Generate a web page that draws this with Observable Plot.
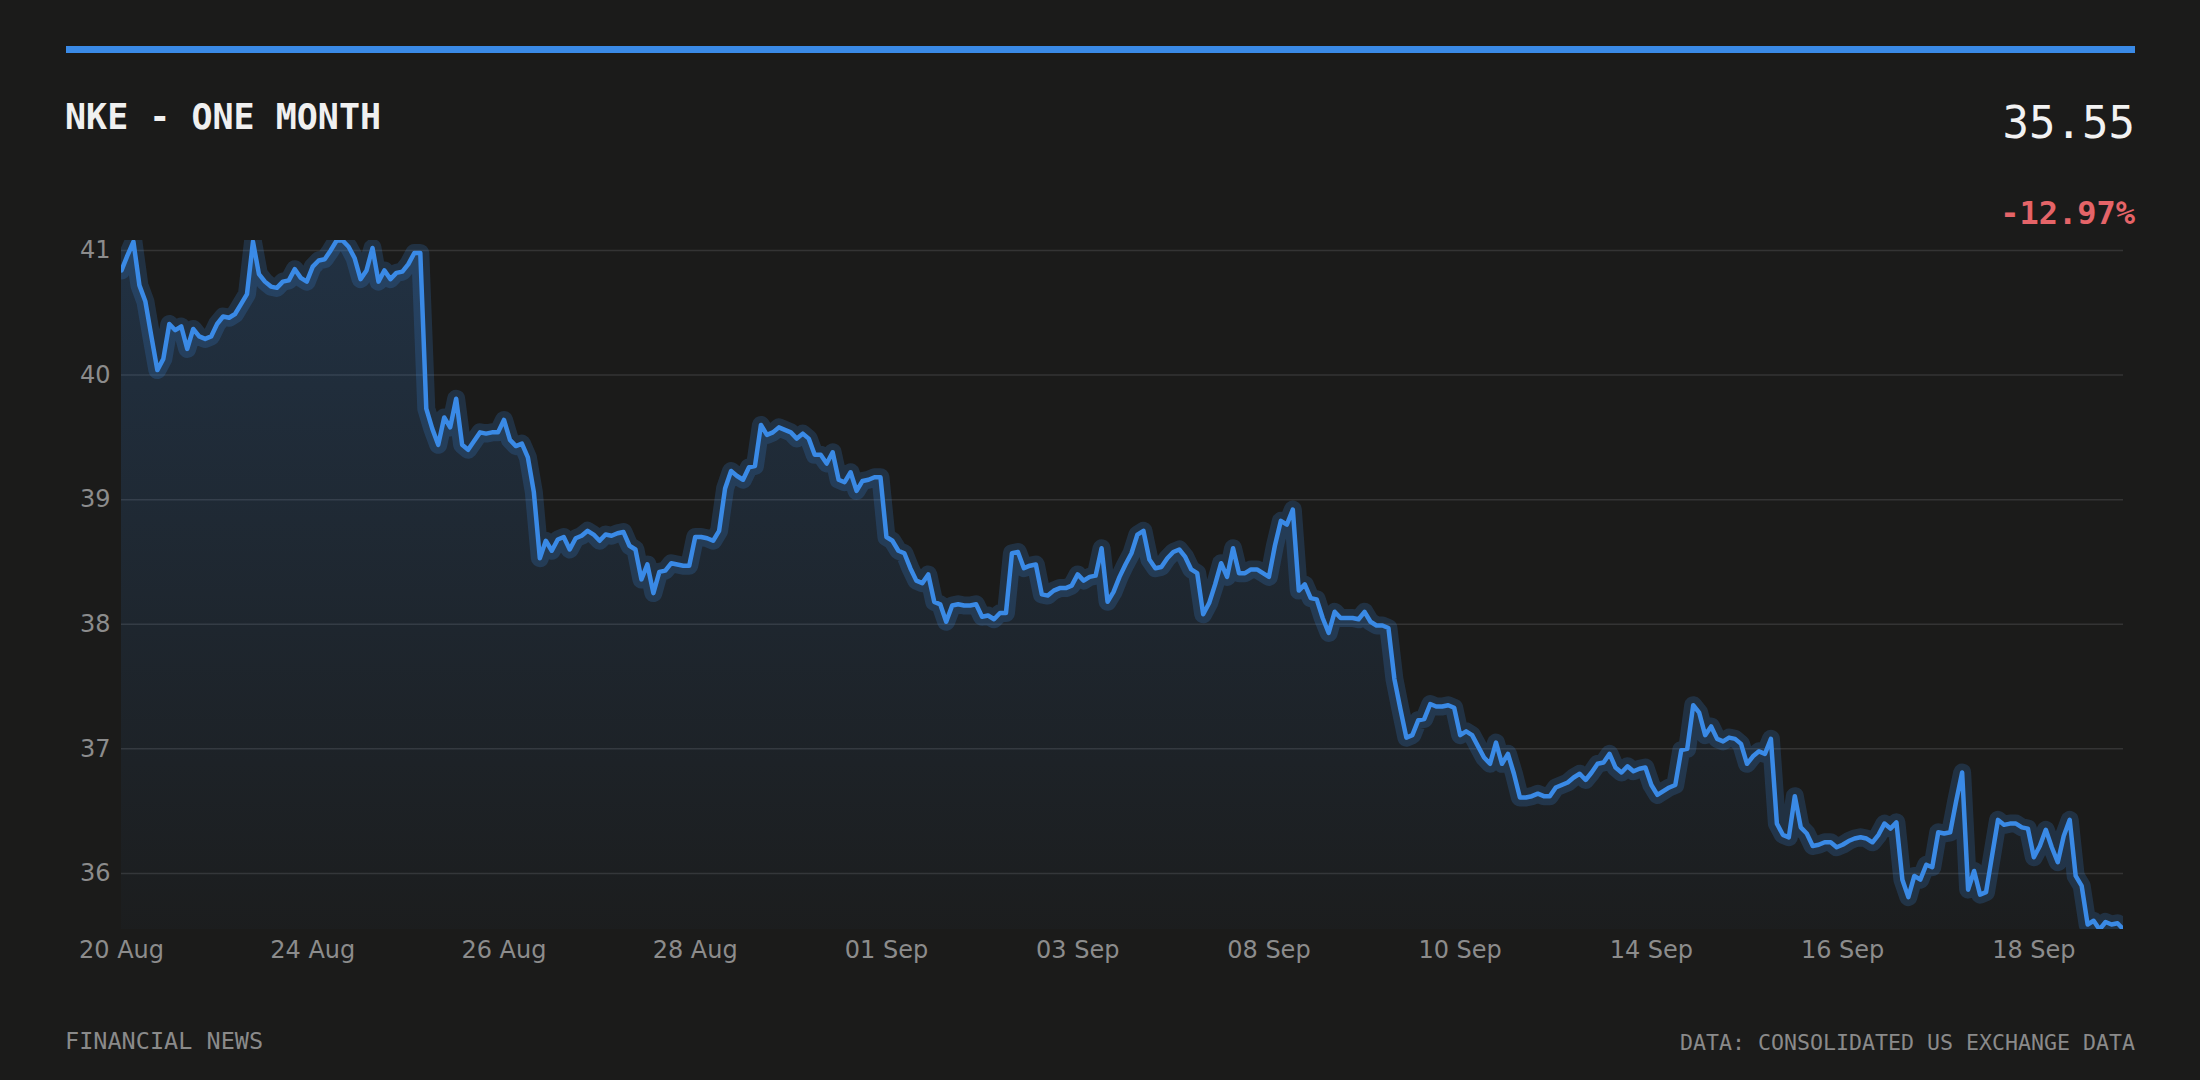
<!DOCTYPE html>
<html>
<head>
<meta charset="utf-8">
<script src="https://cdn.jsdelivr.net/npm/d3@7"></script>
<script src="https://cdn.jsdelivr.net/npm/@observablehq/plot@0.6"></script>
<style>
  html, body { margin: 0; padding: 0; background: #1b1b1a; width: 2200px; height: 1080px; overflow: hidden; }
  .abs { position: absolute; white-space: nowrap; line-height: 1; }
  .mono { font-family: "DejaVu Sans Mono", "Liberation Mono", monospace; }
</style>
</head>
<body>
<div class="abs" style="left:66px;top:46px;width:2069px;height:7px;background:#3a8ae6"></div>
<div class="abs mono" id="title" style="left:65px;top:100px;font-size:35px;font-weight:bold;color:#f0f0f0"></div>
<div class="abs mono" id="price" style="right:65px;top:101px;font-size:44px;color:#f2f2f2"></div>
<div class="abs mono" id="change" style="right:65px;top:197px;font-size:32px;font-weight:bold;color:#e56468"></div>
<div class="abs" id="chart" style="left:66px;top:200px"></div>
<div class="abs mono" id="source" style="left:65px;top:1030px;font-size:23.5px;color:#8a8a8a"></div>
<div class="abs mono" id="credit" style="right:65px;top:1032px;font-size:21.6px;color:#8a8a8a"></div>
<script>
// ---- chart data ----
const titleText = "NKE - ONE MONTH";
const lastPriceText = "35.55";
const changeText = "-12.97%";
const sourceText = "FINANCIAL NEWS";
const creditText = "DATA: CONSOLIDATED US EXCHANGE DATA";

const pointsPerDay = 16;
const tickLabels = ["20 Aug", "24 Aug", "26 Aug", "28 Aug", "01 Sep", "03 Sep", "08 Sep", "10 Sep", "14 Sep", "16 Sep", "18 Sep"];
const yTicks = [36, 37, 38, 39, 40, 41];

// intraday prices, 16 samples per trading day (20 Aug .. 18 Sep)
const prices = [
  40.84, 40.96, 41.07, 40.72, 40.59, 40.31, 40.04, 40.13, 40.41, 40.36, 40.39, 40.21, 40.37, 40.31, 40.29, 40.31,
  40.41, 40.47, 40.46, 40.49, 40.57, 40.65, 41.07, 40.81, 40.75, 40.71, 40.70, 40.75, 40.76, 40.85, 40.78, 40.75,
  40.87, 40.92, 40.93, 41.00, 41.08, 41.08, 41.03, 40.94, 40.77, 40.84, 41.02, 40.75, 40.84, 40.77, 40.82, 40.83,
  40.89, 40.98, 40.98, 39.73, 39.57, 39.44, 39.66, 39.58, 39.81, 39.44, 39.40, 39.47, 39.54, 39.53, 39.54, 39.54,
  39.64, 39.48, 39.43, 39.45, 39.34, 39.06, 38.53, 38.67, 38.59, 38.68, 38.70, 38.60, 38.69, 38.71, 38.75, 38.72,
  38.67, 38.72, 38.71, 38.73, 38.74, 38.63, 38.60, 38.36, 38.48, 38.25, 38.42, 38.43, 38.49, 38.48, 38.47, 38.47,
  38.70, 38.70, 38.69, 38.67, 38.75, 39.09, 39.23, 39.19, 39.16, 39.26, 39.27, 39.60, 39.52, 39.54, 39.58, 39.56,
  39.54, 39.49, 39.53, 39.49, 39.36, 39.36, 39.29, 39.38, 39.16, 39.14, 39.22, 39.07, 39.15, 39.16, 39.18, 39.18,
  38.70, 38.67, 38.59, 38.57, 38.45, 38.35, 38.33, 38.40, 38.18, 38.16, 38.02, 38.15, 38.16, 38.15, 38.15, 38.16,
  38.06, 38.07, 38.04, 38.09, 38.09, 38.57, 38.58, 38.45, 38.47, 38.48, 38.24, 38.23, 38.27, 38.29, 38.29, 38.31,
  38.40, 38.35, 38.38, 38.39, 38.61, 38.18, 38.26, 38.38, 38.48, 38.57, 38.72, 38.75, 38.52, 38.45, 38.46, 38.53,
  38.58, 38.60, 38.54, 38.44, 38.41, 38.08, 38.17, 38.32, 38.49, 38.38, 38.61, 38.41, 38.41, 38.44, 38.44, 38.41,
  38.38, 38.63, 38.83, 38.80, 38.92, 38.27, 38.32, 38.21, 38.20, 38.05, 37.93, 38.10, 38.05, 38.05, 38.05, 38.04,
  38.10, 38.02, 37.99, 37.99, 37.97, 37.56, 37.32, 37.09, 37.11, 37.23, 37.24, 37.36, 37.34, 37.34, 37.35, 37.33,
  37.11, 37.14, 37.11, 37.02, 36.93, 36.88, 37.05, 36.88, 36.96, 36.80, 36.61, 36.61, 36.62, 36.64, 36.62, 36.62,
  36.69, 36.71, 36.73, 36.77, 36.80, 36.75, 36.81, 36.88, 36.89, 36.96, 36.85, 36.81, 36.86, 36.82, 36.84, 36.85,
  36.71, 36.63, 36.66, 36.69, 36.71, 36.99, 37.00, 37.35, 37.29, 37.11, 37.18, 37.08, 37.06, 37.09, 37.08, 37.04,
  36.88, 36.94, 36.98, 36.96, 37.08, 36.40, 36.31, 36.29, 36.62, 36.37, 36.32, 36.22, 36.23, 36.25, 36.25, 36.21,
  36.23, 36.26, 36.28, 36.29, 36.28, 36.25, 36.31, 36.40, 36.36, 36.41, 35.95, 35.81, 35.98, 35.95, 36.07, 36.05,
  36.33, 36.32, 36.33, 36.58, 36.81, 35.87, 36.02, 35.83, 35.85, 36.14, 36.43, 36.39, 36.40, 36.40, 36.37, 36.36,
  36.13, 36.22, 36.35, 36.21, 36.09, 36.30, 36.43, 35.98, 35.90, 35.59, 35.62, 35.55, 35.61, 35.59, 35.60, 35.55
];

// ---- build ----
document.getElementById("title").textContent = titleText;
document.getElementById("price").textContent = lastPriceText;
document.getElementById("change").textContent = changeText;
document.getElementById("source").textContent = sourceText;
document.getElementById("credit").textContent = creditText;

const data = prices.map((p, i) => ({i, p}));
const tickIndex = tickLabels.map((_, k) => k * 2 * pointsPerDay);
const [lo, hi] = d3.extent(prices);
const lineColor = "#3a8ae6";

const plot = Plot.plot({
  width: 2069,
  height: 780,
  marginLeft: 55,
  marginRight: 12,
  marginTop: 40,
  marginBottom: 51,
  style: {background: "transparent", fontFamily: "'DejaVu Sans', sans-serif", fontSize: "24px", color: "#8c8c8c", overflow: "visible"},
  x: {domain: [0, prices.length - 1]},
  y: {domain: [lo, hi]},
  marks: [
    Plot.gridY(yTicks, {stroke: "#343434", strokeOpacity: 1, strokeWidth: 1.5}),
    Plot.areaY(data, {x: "i", y1: lo, y2: "p", fill: "url(#areaGrad)", clip: true}),
    Plot.lineY(data, {x: "i", y: "p", stroke: lineColor, strokeWidth: 18, strokeOpacity: 0.2, strokeLinejoin: "round", clip: true}),
    Plot.lineY(data, {x: "i", y: "p", stroke: lineColor, strokeWidth: 4.5, strokeLinejoin: "round", clip: true}),
    Plot.axisY(yTicks, {tickSize: 0, tickPadding: 11, fill: "#8c8c8c", fontSize: 24, label: null, tickFormat: d => String(d)}),
    Plot.axisX(tickIndex, {tickSize: 0, tickPadding: 11, fill: "#8c8c8c", fontSize: 24, label: null,
      tickFormat: d => tickLabels[tickIndex.indexOf(d)]})
  ]
});

const svg = d3.select(plot);
const grad = svg.insert("defs", ":first-child")
  .append("linearGradient").attr("id", "areaGrad")
  .attr("x1", 0).attr("y1", 0).attr("x2", 0).attr("y2", 1);
grad.append("stop").attr("offset", "0%").attr("stop-color", lineColor).attr("stop-opacity", 0.2);
grad.append("stop").attr("offset", "100%").attr("stop-color", lineColor).attr("stop-opacity", 0.02);

document.getElementById("chart").appendChild(plot);
</script>
</body>
</html>
